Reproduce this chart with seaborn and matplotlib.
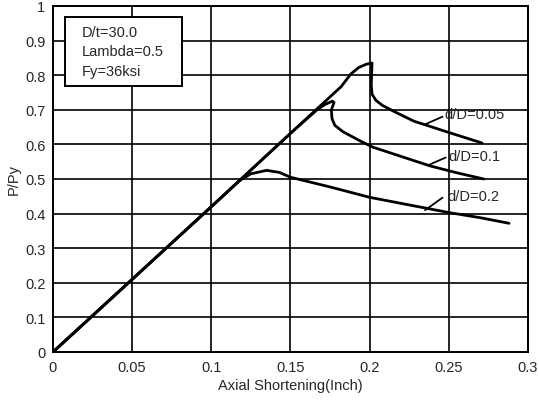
import matplotlib
matplotlib.use("Agg")
import matplotlib.pyplot as plt
from matplotlib.patches import Rectangle
import seaborn as sns
import pandas as pd

# ---- data ----
x_005 = [0, 0.05, 0.1, 0.15, 0.182, 0.188, 0.193, 0.198, 0.2015, 0.2012, 0.201, 0.2015, 0.204, 0.208, 0.215, 0.228, 0.251, 0.271]
y_005 = [0, 0.21, 0.42, 0.632, 0.767, 0.803, 0.822, 0.832, 0.835, 0.80, 0.77, 0.745, 0.727, 0.713, 0.696, 0.667, 0.633, 0.604]

x_01 = [0, 0.05, 0.1, 0.15, 0.167, 0.172, 0.1765, 0.1775, 0.1758, 0.1762, 0.178, 0.183, 0.194, 0.202, 0.22, 0.238, 0.255, 0.272]
y_01 = [0, 0.21, 0.42, 0.632, 0.701, 0.716, 0.725, 0.721, 0.70, 0.675, 0.655, 0.637, 0.61, 0.592, 0.565, 0.538, 0.518, 0.50]

x_02 = [0, 0.05, 0.1, 0.118, 0.125, 0.135, 0.143, 0.15, 0.175, 0.2, 0.225, 0.25, 0.27, 0.288]
y_02 = [0, 0.21, 0.42, 0.496, 0.515, 0.525, 0.519, 0.505, 0.477, 0.447, 0.425, 0.403, 0.388, 0.372]

series_labels = ["d/D=0.05", "d/D=0.1", "d/D=0.2"]
label_pos = [(0.247, 0.688), (0.250, 0.566), (0.249, 0.452)]
leader_start = [(0.235, 0.658), (0.237, 0.540), (0.235, 0.410)]
leader_end = [(0.246, 0.680), (0.248, 0.562), (0.246, 0.446)]

info_lines = ["D/t=30.0", "Lambda=0.5", "Fy=36ksi"]

x_ticks = [0, 0.05, 0.1, 0.15, 0.2, 0.25, 0.3]
x_ticklabels = ["0", "0.05", "0.1", "0.15", "0.2", "0.25", "0.3"]
y_ticks = [0, 0.1, 0.2, 0.3, 0.4, 0.5, 0.6, 0.7, 0.8, 0.9, 1.0]
y_ticklabels = ["0", "0.1", "0.2", "0.3", "0.4", "0.5", "0.6", "0.7", "0.8", "0.9", "1"]

# ---- style ----
sns.set_style("white")
plt.rcParams["font.family"] = ["Liberation Sans", "DejaVu Sans"]
FS = 10.5

fig = plt.figure(figsize=(5.39, 4.02), dpi=100)
ax = fig.add_axes([0.0983, 0.1219, 0.8813, 0.8607])

for xs, ys in [(x_005, y_005), (x_01, y_01), (x_02, y_02)]:
    df = pd.DataFrame({"x": xs, "y": ys})
    sns.lineplot(data=df, x="x", y="y", sort=False, estimator=None,
                 color="black", lw=2.0, ax=ax)

ax.set_xlim(0, 0.3)
ax.set_ylim(0, 1)
ax.set_xticks(x_ticks)
ax.set_xticklabels(x_ticklabels, fontsize=FS)
ax.set_yticks(y_ticks)
ax.set_yticklabels(y_ticklabels, fontsize=FS)
ax.tick_params(axis="both", direction="out", length=4, width=1.3, color="black", pad=1.5)
ax.grid(True, color="black", lw=1.2)
for s in ax.spines.values():
    s.set_color("black")
    s.set_linewidth(1.4)

ax.set_xlabel("Axial Shortening(Inch)", fontsize=FS, labelpad=3)
ax.set_ylabel("P/Py", fontsize=FS, labelpad=3)

# info box
ax.add_patch(Rectangle((0.0253, 0.769), 0.2463, 0.199, transform=ax.transAxes,
                       facecolor="white", edgecolor="black", lw=1.4, zorder=5))
for i, t in enumerate(info_lines):
    ax.text(0.061, 0.925 - i * 0.0565, t, transform=ax.transAxes, fontsize=FS,
            va="center", ha="left", zorder=6)

# labels with leaders
for lab, pos, s0, s1 in zip(series_labels, label_pos, leader_start, leader_end):
    ax.plot([s0[0], s1[0]], [s0[1], s1[1]], color="black", lw=1.3)
    ax.text(pos[0], pos[1], lab, fontsize=FS, va="center", ha="left")

fig.savefig("out.png", dpi=100)
